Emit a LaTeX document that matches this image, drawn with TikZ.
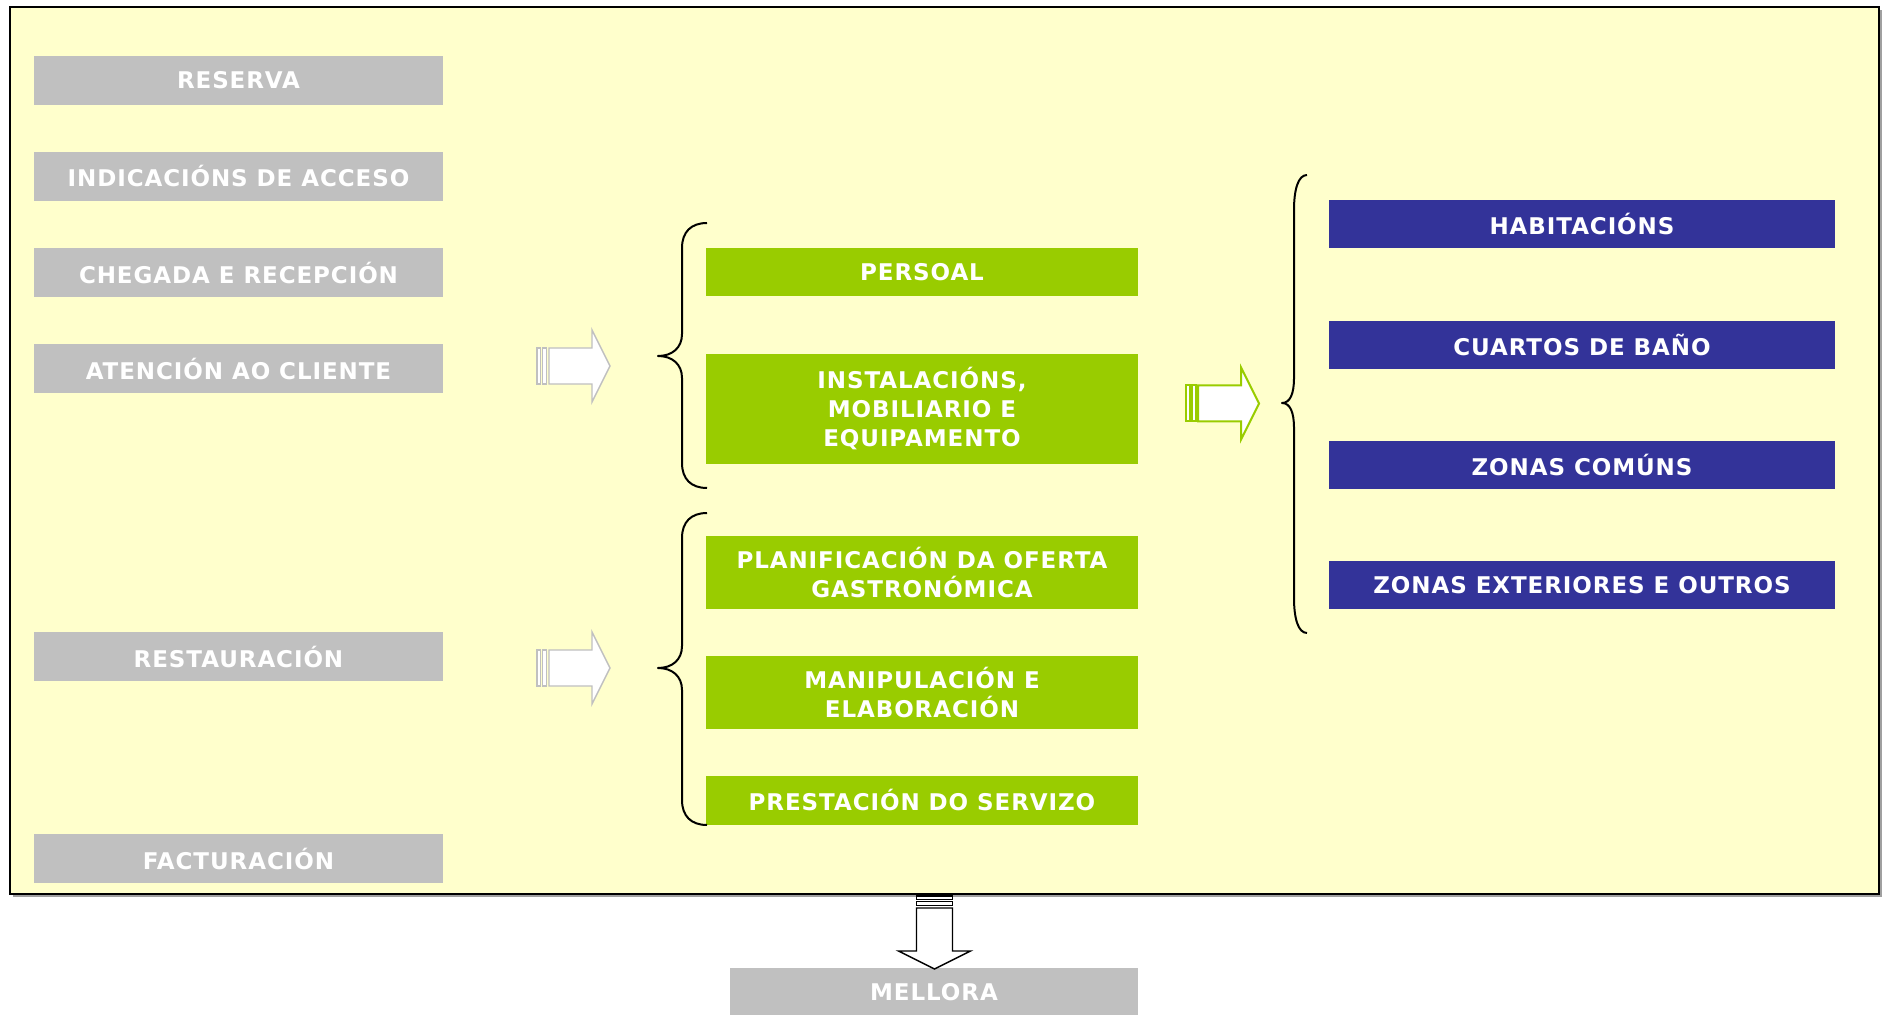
\documentclass[tikz,border=0pt]{standalone}
\usepackage{fontspec}
\setmainfont{DejaVu Sans}[LetterSpace=4]
\definecolor{bgyellow}{HTML}{FFFFCC}
\definecolor{boxgray}{HTML}{C0C0C0}
\definecolor{boxgreen}{HTML}{99CC00}
\definecolor{boxblue}{HTML}{333399}
\definecolor{shadowgray}{HTML}{A0A0A0}
\newcommand\labelfont{\fontsize{11.5pt}{14.4pt}\selectfont\bfseries}
\tikzset{
  box/.style={inner sep=0pt, text=white, font=\labelfont, align=center, anchor=center},
  graybox/.style={box, fill=boxgray, minimum width=204.5pt, minimum height=24.5pt},
  greenbox/.style={box, fill=boxgreen, minimum width=216pt},
  bluebox/.style={box, fill=boxblue, minimum width=253pt, minimum height=24pt},
  brace/.style={line width=1pt, line join=round},
  % striped block arrow pointing along +x, tail at the origin
  stripedarrow/.pic={
    \path[pic actions] (0,-18) rectangle (3.5,18);
    \path[pic actions] (5.5,-18) rectangle (9.5,18);
    \path[pic actions] (12,-18) -- (55,-18) -- (55,-36) -- (73,0) -- (55,36)
      -- (55,18) -- (12,18) -- cycle;
  },
  grayarrow/.style={draw=boxgray, fill=white, line width=0.7pt},
  greenarrow/.style={draw=boxgreen, fill=white, line width=1pt},
  blackarrow/.style={draw=black, fill=white, line width=0.7pt}
}
\begin{document}
\begin{tikzpicture}[x=0.5pt, y=-0.5pt]
\useasboundingbox (0,0) rectangle (1883,1015);
% panel with its shadow
\fill[shadowgray] (13,10) rectangle (1882,897);
\draw[fill=bgyellow, line width=1pt] (10,7) rectangle (1879,894);

% process stages
\node[graybox] (reserva)   at (238.5,80.5)  {RESERVA};
\node[graybox] (acceso)    at (238.5,176.5) {INDICACIÓNS DE ACCESO};
\node[graybox] (chegada)   at (238.5,272.6) {CHEGADA E RECEPCIÓN};
\node[graybox] (atencion)  at (238.5,368.7) {ATENCIÓN AO CLIENTE};
\node[graybox] (restaur)   at (238.5,656.9) {RESTAURACIÓN};
\node[graybox] (factur)    at (238.5,858.6) {FACTURACIÓN};

% aspects
\node[greenbox, minimum height=24pt]   (persoal) at (922,272.5) {PERSOAL};
\node[greenbox, minimum height=54.8pt] (instal)  at (922,408.8) {INSTALACIÓNS,\\MOBILIARIO E\\EQUIPAMENTO};
\node[greenbox, minimum height=36.6pt] (planif)  at (922,572.2) {PLANIFICACIÓN DA OFERTA\\GASTRONÓMICA};
\node[greenbox, minimum height=36.6pt] (manip)   at (922,692.3) {MANIPULACIÓN E\\ELABORACIÓN};
\node[greenbox, minimum height=24.5pt] (prest)   at (922,800.4) {PRESTACIÓN DO SERVIZO};

% areas
\node[bluebox] (habit)  at (1582,224.5) {HABITACIÓNS};
\node[bluebox] (banos)  at (1582,344.6) {CUARTOS DE BAÑO};
\node[bluebox] (comuns) at (1582,464.7) {ZONAS COMÚNS};
\node[bluebox] (exter)  at (1582,584.8) {ZONAS EXTERIORES E OUTROS};

% result
\node[graybox, minimum width=204pt, minimum height=24pt] (mellora) at (934,992) {MELLORA};

% braces
\draw[brace] (707,223) .. controls (691,223) and (682,232) .. (682,248) -- (682,334)
  .. controls (682,348) and (672,356) .. (658,356)
  .. controls (672,356) and (682,364) .. (682,378) -- (682,463)
  .. controls (682,479) and (691,488) .. (707,488);
\draw[brace] (707,513) .. controls (691,513) and (682,522) .. (682,538) -- (682,646)
  .. controls (682,660) and (672,668) .. (658,668)
  .. controls (672,668) and (682,676) .. (682,690) -- (682,800)
  .. controls (682,816) and (691,825) .. (707,825);
\draw[brace] (1307,175) .. controls (1298,175) and (1294,190) .. (1294,210) -- (1294,378)
  .. controls (1294,394) and (1290,403) .. (1282,403)
  .. controls (1290,403) and (1294,412) .. (1294,428) -- (1294,598)
  .. controls (1294,618) and (1298,633) .. (1307,633);

% block arrows
\pic[grayarrow] (arrA) at (537,366) {stripedarrow};
\pic[grayarrow] (arrB) at (537,668) {stripedarrow};
\pic[greenarrow] (arrC) at (1186,403.5) {stripedarrow};
\pic[blackarrow, rotate=-90] (arrD) at (934.5,896) {stripedarrow};
\end{tikzpicture}
\end{document}
